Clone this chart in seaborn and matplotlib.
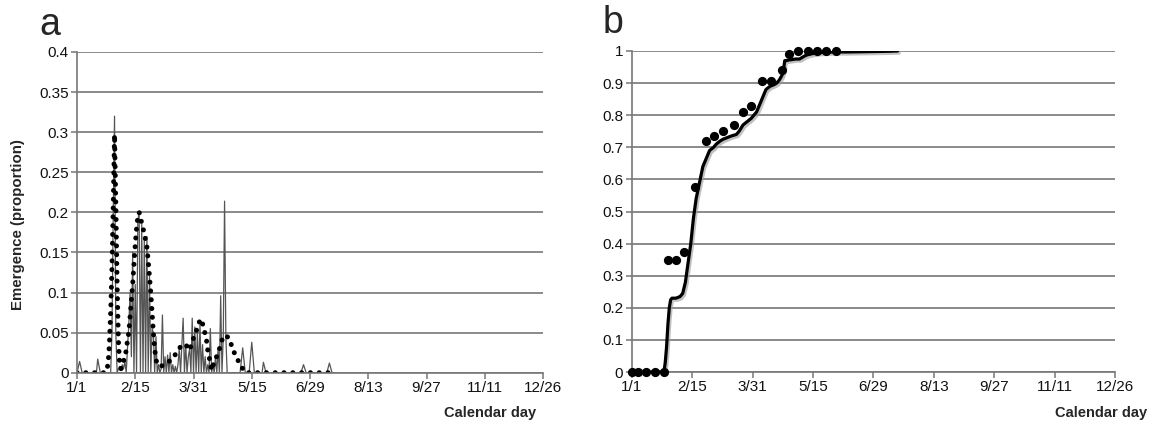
import matplotlib
matplotlib.use("Agg")
import matplotlib.pyplot as plt
import matplotlib.patheffects as pe
import seaborn as sns
import numpy as np
import pandas as pd

# ---------------- data ----------------
tick_days = [0, 45, 90, 135, 180, 225, 270, 315, 360]
tick_labels = ["1/1", "2/15", "3/31", "5/15", "6/29", "8/13", "9/27", "11/11", "12/26"]

# panel a: observed daily emergence (thin spiky line)
obs_day = [0, 2, 4, 15, 16, 18, 26, 27, 28, 29, 30, 31, 32, 33, 34, 35, 36, 37, 38, 39,
           40, 41, 42, 43, 44, 45, 46, 47, 48, 49, 50, 51, 52, 53, 54, 55, 56, 57, 58, 59,
           60, 61, 62, 63, 64, 65, 66, 67, 68, 69, 70, 71, 72, 73, 74, 75, 76, 77, 78, 79,
           80, 81, 82, 83, 84, 85, 86, 87, 88, 89, 90, 91, 92, 93, 94, 95, 96, 97, 98, 99,
           100, 101, 102, 103, 104, 105, 106, 107, 108, 109, 110, 111, 112, 113, 114, 115, 116,
           126, 128, 130, 133, 135, 137, 143, 144, 146, 173, 175, 177, 193, 195, 197, 199]
obs_val = [0, 0.014, 0, 0, 0.017, 0, 0, 0.05, 0.2, 0.32, 0.05, 0, 0.005, 0.008, 0.003, 0.01, 0.005, 0.014, 0.0, 0.03,
           0.06, 0.1, 0.02, 0.15, 0.0, 0.11, 0.0, 0.19, 0.2, 0.0, 0.185, 0.0, 0.17, 0.0, 0.17, 0.0, 0.12, 0.0, 0.055, 0.05,
           0.0, 0.045, 0.0, 0.01, 0.0, 0.005, 0.072, 0.0, 0.02, 0.0, 0.022, 0.0, 0.025, 0.0, 0.01, 0.0, 0.008, 0.0, 0.01, 0.03,
           0.0, 0.035, 0.068, 0.0, 0.035, 0.0, 0.02, 0.03, 0.0, 0.068, 0.0, 0.057, 0.0, 0.05, 0.0, 0.06, 0.0, 0.035, 0.0, 0.02,
           0.0, 0.01, 0.0, 0.055, 0.0, 0.01, 0.0, 0.02, 0.0, 0.03, 0.0, 0.096, 0.0, 0.045, 0.214, 0.045, 0.0,
           0, 0.031, 0, 0, 0.038, 0, 0, 0.013, 0, 0, 0.01, 0, 0, 0.012, 0, 0]

# panel a: simulated emergence (dotted line)
sim_day = [0, 22, 24, 25, 26, 27, 28, 29, 30, 31, 32, 33, 34, 35, 36, 37, 38, 39,
           40, 41, 42, 43, 44, 45, 46, 47, 48, 49, 50, 51, 52, 53, 54, 55, 56, 57, 58, 59,
           60, 61, 62, 65, 69, 73, 77, 81, 84, 87, 89, 92, 94, 96, 98, 100, 101, 103, 104,
           106, 109, 111, 113, 116, 118, 120, 123, 126, 130, 199]
sim_val = [0, 0, 0.01, 0.035, 0.075, 0.13, 0.21, 0.297, 0.21, 0.11, 0.04, 0.008, 0.005, 0.01, 0.015, 0.018, 0.028, 0.04,
           0.05, 0.07, 0.09, 0.11, 0.135, 0.16, 0.18, 0.195, 0.2, 0.195, 0.186, 0.18, 0.174, 0.165, 0.157, 0.14, 0.12, 0.1, 0.075, 0.05,
           0.03, 0.017, 0.01, 0.008, 0.012, 0.016, 0.025, 0.035, 0.035, 0.028, 0.039, 0.051, 0.062, 0.067, 0.055, 0.041, 0.028, 0.012, 0.003,
           0.014, 0.024, 0.035, 0.046, 0.045, 0.042, 0.03, 0.02, 0.01, 0.0, 0.0]

# panel b: cumulative emergence, simulated line
cum_day = [0, 24, 25, 26, 27, 28, 29, 30, 33, 36, 37, 38, 40, 42, 44, 46, 48, 50, 52, 53, 55, 56, 58, 61,
           63, 66, 68, 71, 74, 78, 80, 83, 86, 89, 91, 93, 96, 98, 100, 103, 106, 108, 110, 112, 113,
           114, 115, 117, 119, 122, 125, 127, 129, 132, 135, 140, 150, 160, 175, 190, 198]
cum_val = [0, 0, 0.03, 0.08, 0.15, 0.2, 0.225, 0.23, 0.23, 0.235, 0.24, 0.245, 0.28, 0.34, 0.4, 0.48, 0.54, 0.58, 0.62, 0.64, 0.66, 0.67, 0.69, 0.70,
           0.71, 0.72, 0.725, 0.73, 0.735, 0.74, 0.75, 0.77, 0.78, 0.79, 0.80, 0.81, 0.84, 0.86, 0.88, 0.89, 0.895, 0.90, 0.91, 0.925, 0.94,
           0.97, 0.97, 0.972, 0.973, 0.975, 0.975, 0.98, 0.985, 0.99, 0.992, 0.995, 0.997, 0.997, 0.998, 0.999, 1.0]

# panel b: observed cumulative emergence (points)
pt_day = [0, 5, 11, 17, 24, 27, 33, 39, 47, 55, 61, 68, 76, 83, 89, 97, 104, 112, 117, 124, 131, 138, 145, 152]
pt_val = [0, 0, 0, 0, 0, 0.35, 0.35, 0.375, 0.575, 0.72, 0.735, 0.75, 0.77, 0.81, 0.83, 0.905, 0.905, 0.94, 0.99,
          1.0, 1.0, 1.0, 1.0, 1.0]

a_yticks = [0, 0.05, 0.1, 0.15, 0.2, 0.25, 0.3, 0.35, 0.4]
b_yticks = [0, 0.1, 0.2, 0.3, 0.4, 0.5, 0.6, 0.7, 0.8, 0.9, 1.0]

# ---------------- style ----------------
sns.set_style("white")
plt.rcParams["font.family"] = ["Liberation Sans", "DejaVu Sans"]

GRID = "#777777"
W, H = 1150, 428
fig = plt.figure(figsize=(W / 100, H / 100), dpi=100)

def px_axes(l, r, t, b):
    return fig.add_axes([l / W, 1 - b / H, (r - l) / W, (b - t) / H])

ax_a = px_axes(77, 543, 52, 372.7)
ax_b = px_axes(631.7, 1115, 51, 372)

def style(ax, yticks):
    ax.set_xlim(0, 360)
    ax.set_ylim(yticks[0], yticks[-1])
    ax.set_xticks(tick_days)
    ax.set_xticklabels(tick_labels)
    ax.set_yticks(yticks)
    ax.set_yticklabels([f"{v:g}" for v in yticks])
    ax.yaxis.grid(True, color=GRID, linewidth=1.2)
    ax.xaxis.grid(False)
    for s in ["top", "right"]:
        ax.spines[s].set_visible(False)
    for s in ["left", "bottom"]:
        ax.spines[s].set_color(GRID)
        ax.spines[s].set_linewidth(1.2)
    ax.tick_params(axis="both", which="major", direction="out", length=4, width=1.1,
                   color=GRID, labelsize=11, labelcolor="#111111", bottom=True, left=True, pad=2)
    ax.set_xlabel("")
    ax.set_ylabel("")
    ax.set_axisbelow(True)

# panel a
obs_df = pd.DataFrame({"day": obs_day, "val": obs_val})
sim_df = pd.DataFrame({"day": sim_day, "val": sim_val})
sns.lineplot(data=obs_df, x="day", y="val", ax=ax_a, color="#555555", linewidth=0.9,
             estimator=None, sort=False)
sns.lineplot(data=sim_df, x="day", y="val", ax=ax_a, color="black", linewidth=3.6,
             estimator=None, sort=False, linestyle=(0, (0.01, 1.75)), dash_capstyle="round")
style(ax_a, a_yticks)

# panel b
cum_df = pd.DataFrame({"day": cum_day, "val": cum_val})
pt_df = pd.DataFrame({"day": pt_day, "val": pt_val})
sns.lineplot(data=cum_df, x="day", y="val", ax=ax_b, color="black", linewidth=2.3,
             estimator=None, sort=False,
             path_effects=[pe.SimpleLineShadow(offset=(1.2, -1.5), shadow_color="#999999", alpha=0.6),
                           pe.Normal()])
sns.scatterplot(data=pt_df, x="day", y="val", ax=ax_b, color="black", s=44, edgecolor="black",
                linewidth=0, zorder=5, clip_on=False)
style(ax_b, b_yticks)

# texts
fig.text(18 / W, 1 - 225 / H, "Emergence (proportion)", rotation=90, ha="center", va="center",
         fontsize=10.8, fontweight="bold")
fig.text(536 / W, 1 - 413 / H, "Calendar day", ha="right", va="center", fontsize=10.5, fontweight="bold")
fig.text(1147 / W, 1 - 413 / H, "Calendar day", ha="right", va="center", fontsize=10.5, fontweight="bold")
fig.text(39 / W, 1 - 35 / H, "a", ha="left", va="baseline", fontsize=27)
fig.text(603 / W, 1 - 33 / H, "b", ha="left", va="baseline", fontsize=27)

fig.savefig("out.png", dpi=100)
